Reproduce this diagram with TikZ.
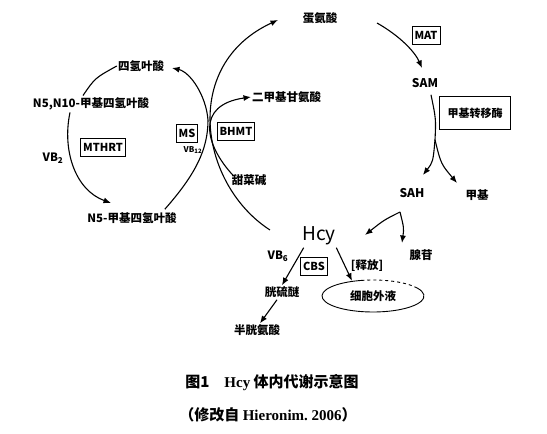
\documentclass[tikz,border=0pt]{standalone}
\usepackage{fontspec}
\setmainfont{Noto Sans CJK SC}
\newfontfamily\capserif{Liberation Serif}
\usetikzlibrary{arrows.meta,shapes.geometric}

\begin{document}
\begin{tikzpicture}[x=1pt,y=1pt,>={Latex[length=7.5pt,width=6pt]},
 lbl/.style={font=\fontsize{11.5}{13}\selectfont\bfseries,inner sep=1pt},
 enzyme/.style={draw,line width=.9pt,inner sep=2.5pt,minimum height=18pt,font=\fontsize{11}{13}\selectfont\bfseries},
 flow/.style={line width=1.1pt},
 captxt/.style={font=\fontsize{15}{18}\selectfont\bfseries}]
\useasboundingbox (0,0) rectangle (547,434);
% methionine cycle
\node[lbl] (met) at (320,416) {蛋氨酸};
\node[enzyme] (mat) at (426,399) {MAT};
\node[lbl,font=\fontsize{12}{14}\selectfont\bfseries] (sam) at (425,351) {SAM};
\node[enzyme,minimum width=71pt,minimum height=33pt] (mtase) at (475,321) {甲基转移酶};
\node[lbl,font=\fontsize{12}{14}\selectfont\bfseries] (sah) at (412,241) {SAH};
\node[lbl] (methyl) at (477,239) {甲基};
\node[lbl] (ado) at (421,179) {腺苷};
\node[font=\fontsize{19}{21}\selectfont] (hcy) at (319,198) {Hcy};
\node[lbl] (vbsix) at (278,178) {VB\textsubscript{6}};
\node[enzyme] (cbs) at (314,168) {CBS};
\node[lbl] (release) at (367,168) {[释放]};
\node[lbl] (cysta) at (282,142) {胱硫醚};
\node[lbl] (cys) at (257,104) {半胱氨酸};
\node[lbl,ellipse,minimum width=102pt,minimum height=32pt] (ecf) at (373,138) {细胞外液};
\draw[line width=.9pt] ([shift={(100:51 and 16)}]ecf.center) arc[start angle=100,end angle=390,x radius=51,y radius=16];
\draw[line width=.9pt,dashed] ([shift={(30:51 and 16)}]ecf.center) arc[start angle=30,end angle=100,x radius=51,y radius=16];
% remethylation
\node[lbl,anchor=west] (dmg) at (251,337) {二甲基甘氨酸};
\node[lbl] (betaine) at (249,254) {甜菜碱};
\node[enzyme] (bhmt) at (236,303) {BHMT};
\node[enzyme] (ms) at (187,301) {MS};
\node[lbl,font=\fontsize{8}{9}\selectfont\bfseries] (vbtw) at (193,284) {VB\textsubscript{12}};
% folate cycle
\node[lbl] (thf) at (141,368) {四氢叶酸};
\node[lbl] (mthf) at (91,330) {N5,N10-甲基四氢叶酸};
\node[enzyme] (mthrt) at (103,287) {MTHRT};
\node[lbl] (vbtwo) at (53,276) {VB\textsubscript{2}};
\node[lbl] (nfive) at (132,216) {N5-甲基四氢叶酸};
% free ends
\coordinate (jn) at (208,314);
\coordinate (arcbot) at (270,204);
\coordinate (mettip) at (278,414);
\coordinate (metout) at (377,411);
\coordinate (samtip) at (422,366);
\coordinate (split) at (435,294);
\coordinate (sahtip) at (423,259);
\coordinate (methtip) at (457,251);
\coordinate (peak) at (400,222);
\coordinate (hcytip) at (365,199);
\coordinate (adotip) at (402,191);
\coordinate (thftip) at (172,366);
\coordinate (nfivetip) at (111,231);
% connectors
\draw[flow,->] (arcbot) .. controls (200,249) and (180,369) .. (mettip);
\draw[flow,->] (metout) .. controls (400,398) and (415,382) .. (samtip);
\draw[flow] (sam.south) ++(6,-6) .. controls (436,315) .. (split);
\draw[flow,->] (split) .. controls (433,272) .. (sahtip);
\draw[flow,->] (split) .. controls (441,270) .. (methtip);
\draw[flow,->] (peak) .. controls (384,214) .. (hcytip);
\draw[flow,->] (peak) .. controls (404,206) .. (adotip);
\draw[flow,->] (hcy.south west) ++(5,1) -- (cysta.north);
\draw[flow,->] (cysta.south) ++(-5,-1) -- ([xshift=3pt]cys.north);
\draw[flow,->] (hcy.south east) ++(-3,1) -- ([xshift=-21pt,yshift=-1pt]ecf.north);
\draw[flow,->] (betaine.north) ++(-16,-2) .. controls (205,289) and (195,329) .. (dmg.west);
\draw[flow,->] (nfive.north east) ++(-13,2) .. controls (195,259) and (208,284) .. (jn)
  .. controls (206,339) and (190,362) .. (thftip);
\draw[flow] (mthf.north) ++(-8,1) .. controls (95,356) .. (thf.west);
\draw[flow,->] (mthf.south) ++(-21,-1) .. controls (62,284) and (75,244) .. (nfivetip);
% caption
\node[captxt] (captop) at (272,51) {图1\quad {\capserif Hcy} 体内代谢示意图};
\node[captxt] (capbot) at (268,19) {（修改自 {\capserif Hieronim.~2006}）};
\end{tikzpicture}
\end{document}
